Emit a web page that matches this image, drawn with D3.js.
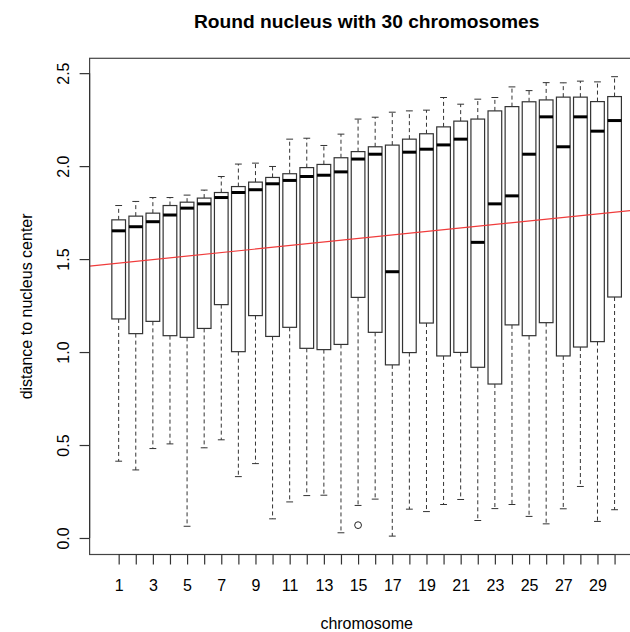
<!DOCTYPE html>
<html>
<head>
<meta charset="utf-8">
<script src="https://cdn.jsdelivr.net/npm/d3@7"></script>
<style>
  html, body { margin: 0; padding: 0; background: #fff; }
  svg { display: block; }
  text { font-family: "Liberation Sans", Arial, Helvetica, sans-serif; fill: #000; }
</style>
</head>
<body>
<svg id="chart" width="630" height="632"></svg>
<script>
// Distance of each chromosome to the nucleus center: boxplot statistics per chromosome
const chromosomes = d3.range(1, 31);
const upperWhisker = [1.788, 1.810, 1.831, 1.831, 1.844, 1.871, 1.944, 2.011, 2.016, 1.998,
                      2.145, 2.150, 2.111, 2.172, 2.253, 2.263, 2.290, 2.297, 2.301, 2.369,
                      2.333, 2.360, 2.369, 2.426, 2.406, 2.449, 2.448, 2.457, 2.453, 2.481];
const upperQuartile = [1.711, 1.731, 1.747, 1.788, 1.806, 1.828, 1.858, 1.890, 1.914, 1.939,
                       1.959, 1.992, 2.009, 2.045, 2.078, 2.104, 2.113, 2.145, 2.174, 2.211,
                       2.242, 2.253, 2.297, 2.320, 2.346, 2.356, 2.371, 2.371, 2.347, 2.374];
const medians = [1.652, 1.674, 1.701, 1.737, 1.774, 1.797, 1.831, 1.858, 1.873, 1.905,
                 1.923, 1.944, 1.951, 1.969, 2.038, 2.064, 1.432, 2.075, 2.091, 2.114,
                 2.145, 1.590, 1.797, 1.840, 2.064, 2.265, 2.104, 2.265, 2.188, 2.245];
const lowerQuartile = [1.178, 1.099, 1.165, 1.088, 1.079, 1.127, 1.255, 1.002, 1.196, 1.084,
                       1.133, 1.020, 1.013, 1.041, 1.294, 1.106, 0.931, 0.997, 1.156, 0.979,
                       0.998, 0.918, 0.828, 1.146, 1.088, 1.158, 0.979, 1.027, 1.056, 1.296];
const lowerWhisker = [0.413, 0.366, 0.481, 0.506, 0.063, 0.485, 0.528, 0.330, 0.400, 0.103,
                      0.194, 0.228, 0.230, 0.028, 0.175, 0.209, 0.010, 0.155, 0.142, 0.180,
                      0.207, 0.094, 0.158, 0.180, 0.116, 0.076, 0.157, 0.277, 0.089, 0.152];
// Points beyond the whiskers: [chromosome, distance]
const outliers = [[15, 0.069]];
// Fitted trend of distance against chromosome number
const trendIntercept = 1.469;
const trendSlope = 0.00944;
const yTicks = [0, 0.5, 1.0, 1.5, 2.0, 2.5];
const xTicks = chromosomes;

const titleText = "Round nucleus with 30 chromosomes";
const xTitle = "chromosome";
const yTitle = "distance to nucleus center";

const svg = d3.select("#chart");

// Plot region
const plotLeft = 89.6, plotTop = 58.3, plotBottom = 554.5, unit = 17.1;
const xMin = 0.5 - 1.2, xMax = chromosomes.length + 0.5 + 1.2;
const plotRight = plotLeft + (xMax - xMin) * unit;

const x = d3.scaleLinear().domain([xMin, xMax]).range([plotLeft, plotRight]);

const dataMin = d3.min(lowerWhisker.concat(outliers.map(o => o[1])));
const dataMax = d3.max(upperWhisker);
const pad = (dataMax - dataMin) * 0.04;
const y = d3.scaleLinear().domain([dataMin - pad, dataMax + pad]).range([plotBottom, plotTop]);

const boxW = 0.8 * unit;
const capW = 0.5 * boxW;

const boxes = chromosomes.map((c, i) => ({
  c, hi: upperWhisker[i], q3: upperQuartile[i], med: medians[i], q1: lowerQuartile[i], lo: lowerWhisker[i]
}));

const g = svg.append("g");

// Whiskers (dashed) and caps
const wk = g.append("g").attr("stroke", "#333").attr("stroke-width", 1).attr("fill", "none");
wk.selectAll("line.up").data(boxes).join("line").attr("class", "up")
  .attr("x1", d => x(d.c)).attr("x2", d => x(d.c))
  .attr("y1", d => y(d.q3)).attr("y2", d => y(d.hi))
  .attr("stroke-dasharray", "4,3");
wk.selectAll("line.down").data(boxes).join("line").attr("class", "down")
  .attr("x1", d => x(d.c)).attr("x2", d => x(d.c))
  .attr("y1", d => y(d.q1)).attr("y2", d => y(d.lo))
  .attr("stroke-dasharray", "4,3");
wk.selectAll("line.capHi").data(boxes).join("line").attr("class", "capHi")
  .attr("x1", d => x(d.c) - capW / 2).attr("x2", d => x(d.c) + capW / 2)
  .attr("y1", d => y(d.hi)).attr("y2", d => y(d.hi));
wk.selectAll("line.capLo").data(boxes).join("line").attr("class", "capLo")
  .attr("x1", d => x(d.c) - capW / 2).attr("x2", d => x(d.c) + capW / 2)
  .attr("y1", d => y(d.lo)).attr("y2", d => y(d.lo));

// Boxes
g.append("g").selectAll("rect").data(boxes).join("rect")
  .attr("x", d => x(d.c) - boxW / 2)
  .attr("width", boxW)
  .attr("y", d => y(d.q3))
  .attr("height", d => y(d.q1) - y(d.q3))
  .attr("fill", "#fff")
  .attr("stroke", "#333")
  .attr("stroke-width", 1.2);

// Medians
g.append("g").selectAll("line").data(boxes).join("line")
  .attr("x1", d => x(d.c) - boxW / 2).attr("x2", d => x(d.c) + boxW / 2)
  .attr("y1", d => y(d.med)).attr("y2", d => y(d.med))
  .attr("stroke", "#000").attr("stroke-width", 3);

// Outliers
g.append("g").selectAll("circle").data(outliers).join("circle")
  .attr("cx", d => x(d[0])).attr("cy", d => y(d[1])).attr("r", 3.4)
  .attr("fill", "none").attr("stroke", "#222").attr("stroke-width", 1);

// Trend line across the whole plot region
svg.append("line")
  .attr("x1", x(xMin)).attr("x2", x(xMax))
  .attr("y1", y(trendIntercept + trendSlope * xMin))
  .attr("y2", y(trendIntercept + trendSlope * xMax))
  .attr("stroke", "#f03c3c").attr("stroke-width", 1.2);

// Frame
svg.append("rect")
  .attr("x", plotLeft).attr("y", plotTop)
  .attr("width", plotRight - plotLeft).attr("height", plotBottom - plotTop)
  .attr("fill", "none").attr("stroke", "#444").attr("stroke-width", 1.2);

// Y axis
const yAxis = svg.append("g").attr("transform", `translate(${plotLeft},0)`)
  .call(d3.axisLeft(y).tickValues(yTicks).tickSize(10).tickFormat(d3.format(".1f")));
yAxis.select(".domain").remove();
yAxis.selectAll(".tick line").attr("stroke", "#333").attr("stroke-width", 1.2);
yAxis.selectAll(".tick text")
  .attr("x", null).attr("dy", null)
  .attr("text-anchor", "middle")
  .attr("transform", "translate(-21,0) rotate(-90)")
  .style("font-size", "16px")
  .style("font-family", "'Liberation Sans', Arial, sans-serif");
yAxis.append("line")
  .attr("x1", 0).attr("x2", 0)
  .attr("y1", y(yTicks[0])).attr("y2", y(yTicks[yTicks.length - 1]))
  .attr("stroke", "#333").attr("stroke-width", 1.2);

// X axis (labels on odd chromosomes only)
const xAxis = svg.append("g").attr("transform", `translate(0,${plotBottom})`)
  .call(d3.axisBottom(x).tickValues(xTicks).tickSize(10)
    .tickFormat(d => (d % 2 === 1 ? String(d) : "")));
xAxis.select(".domain").remove();
xAxis.selectAll(".tick line").attr("stroke", "#333").attr("stroke-width", 1.2);
xAxis.selectAll(".tick text")
  .attr("y", 36.5).attr("dy", null)
  .style("font-size", "16px")
  .style("font-family", "'Liberation Sans', Arial, sans-serif");
xAxis.append("line")
  .attr("x1", x(xTicks[0])).attr("x2", x(xTicks[xTicks.length - 1]))
  .attr("y1", 0).attr("y2", 0)
  .attr("stroke", "#333").attr("stroke-width", 1.2);

// Titles
svg.append("text")
  .attr("x", (plotLeft + plotRight) / 2).attr("y", 28)
  .attr("text-anchor", "middle")
  .style("font-size", "19.2px").style("font-weight", "bold")
  .text(titleText);

svg.append("text")
  .attr("x", (plotLeft + plotRight) / 2).attr("y", 629)
  .attr("text-anchor", "middle")
  .style("font-size", "16px")
  .text(xTitle);

svg.append("text")
  .attr("transform", `translate(32,${(plotTop + plotBottom) / 2}) rotate(-90)`)
  .attr("text-anchor", "middle")
  .style("font-size", "16px")
  .text(yTitle);
</script>
</body>
</html>
